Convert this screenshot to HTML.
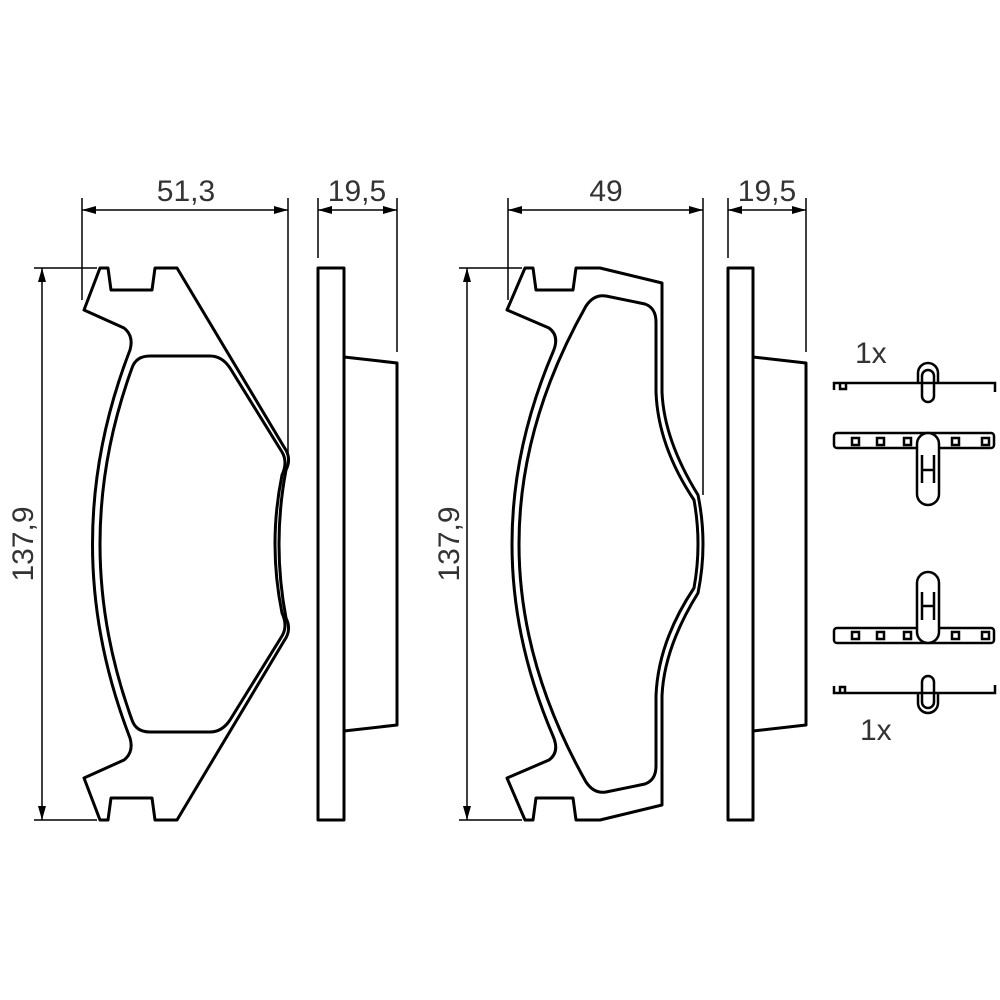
<!DOCTYPE html>
<html><head><style>body{margin:0;background:#fff}svg{display:block}</style></head><body>
<svg width="1000" height="1000" viewBox="0 0 1000 1000" xmlns="http://www.w3.org/2000/svg">
<defs>
<marker id="a" viewBox="0 0 14 8" refX="14" refY="4" markerWidth="14" markerHeight="8" markerUnits="userSpaceOnUse" orient="auto-start-reverse"><path d="M0,0 L14,4 L0,8 z" fill="#000"/></marker>
</defs>
<g font-family="Liberation Sans, sans-serif" font-size="30" fill="#333">
<text x="186" y="201" text-anchor="middle">51,3</text>
<text x="357" y="201" text-anchor="middle">19,5</text>
<text x="606" y="201" text-anchor="middle">49</text>
<text x="767" y="201" text-anchor="middle">19,5</text>
<text transform="translate(33,544) rotate(-90)" text-anchor="middle">137,9</text>
<text transform="translate(459,544) rotate(-90)" text-anchor="middle">137,9</text>
<text x="855" y="363">1x</text>
<text x="860" y="740">1x</text>
</g>
<g stroke="#000" stroke-width="1.5" fill="none">
<line x1="82" y1="210" x2="288" y2="210" marker-start="url(#a)" marker-end="url(#a)"/>
<line x1="82" y1="198" x2="82" y2="300"/><line x1="288" y1="198" x2="288" y2="455"/>
<line x1="318" y1="210" x2="397" y2="210" marker-start="url(#a)" marker-end="url(#a)"/>
<line x1="318" y1="198" x2="318" y2="258"/><line x1="397" y1="198" x2="397" y2="352"/>
<line x1="508" y1="210" x2="703" y2="210" marker-start="url(#a)" marker-end="url(#a)"/>
<line x1="508" y1="198" x2="508" y2="300"/><line x1="703" y1="198" x2="703" y2="495"/>
<line x1="728" y1="210" x2="806" y2="210" marker-start="url(#a)" marker-end="url(#a)"/>
<line x1="728" y1="198" x2="728" y2="258"/><line x1="806" y1="198" x2="806" y2="352"/>
<line x1="42" y1="268" x2="42" y2="820" marker-start="url(#a)" marker-end="url(#a)"/>
<line x1="34" y1="268" x2="97" y2="268"/><line x1="34" y1="820" x2="97" y2="820"/>
<line x1="467" y1="268" x2="467" y2="820" marker-start="url(#a)" marker-end="url(#a)"/>
<line x1="459" y1="268" x2="522" y2="268"/><line x1="459" y1="820" x2="522" y2="820"/>
</g>
<g stroke="#000" stroke-width="3" fill="none" stroke-linejoin="round">
<path d="M100,268 L108,268 L111,290 L152,290 L155,268 L177,268 L284,447 Q292,458 286,470 Q272,544 286,618 Q292,630 284,641 L177,820 L155,820 L152,798 L111,798 L108,820 L100,820 L84,778 L124,760 Q134,752 130,738 Q55,544 130,350 Q134,336 124,328 L84,310 Z"/>
<path d="M150,356 L210,356 Q222,356 230,368 L282,452 Q288,462 282,475 Q268,544 282,613 Q288,626 282,636 L230,720 Q222,732 210,732 L150,732 Q136,732 132,720 Q68,544 132,368 Q136,356 150,356 Z"/>
<rect x="318" y="268" width="26" height="552"/>
<path d="M344,357 L397,363 L397,725 L344,731"/>
<path d="M525,268 L533,268 L536,290 L573,290 L576,268 L600,268 L662,283 L662,392 Q664,440 698,495 Q708,544 698,593 Q664,648 662,696 L662,805 L600,820 L576,820 L573,798 L536,798 L533,820 L525,820 L507,778 L549,760 Q560,752 553,736 Q471,544 553,352 Q560,336 549,328 L507,310 Z"/>
<path d="M606,296 L645,304 Q656,308 656,322 L656,392 Q658,446 694,500 Q702,544 694,588 Q658,642 656,696 L656,766 Q656,780 645,784 L606,792 Q594,794 586,782 Q452,544 586,306 Q594,294 606,296 Z"/>
<rect x="728" y="268" width="25" height="552"/>
<path d="M753,357 L806,363 L806,725 L753,731"/>
</g>
<g stroke="#000" stroke-width="2.5" fill="none">
<path d="M834,390 L834,383 L995,383 L995,392"/>
<path d="M840,383 v6 h6 v-6"/>
<path d="M918,383 v-10 a10,10 0 0 1 20,0 v10"/>
<rect x="922" y="370" width="12" height="32" rx="6"/>
<rect x="834" y="433" width="160" height="15" rx="3"/>
<rect x="917" y="433" width="22" height="72" rx="11" fill="#fff"/>
<path d="M922,455 v28 M934,455 v28 M922,470 h12"/>
<rect x="852" y="438" width="7" height="7"/><rect x="877" y="438" width="7" height="7"/><rect x="904" y="438" width="7" height="7"/>
<rect x="952" y="438" width="7" height="7"/><rect x="982" y="438" width="7" height="7"/>
<rect x="834" y="628" width="160" height="15" rx="3"/>
<rect x="917" y="572" width="22" height="71" rx="11" fill="#fff"/>
<path d="M922,592 v28 M934,592 v28 M922,606 h12"/>
<rect x="852" y="632" width="7" height="7"/><rect x="877" y="632" width="7" height="7"/><rect x="904" y="632" width="7" height="7"/>
<rect x="952" y="632" width="7" height="7"/><rect x="982" y="632" width="7" height="7"/>
<path d="M834,686 L834,693 L995,693 L995,685"/>
<path d="M840,693 v-6 h5 v6"/>
<path d="M918,693 v10 a10,10 0 0 0 20,0 v-10"/>
<rect x="922" y="676" width="12" height="32" rx="6"/>
</g>
</svg>
</body></html>
